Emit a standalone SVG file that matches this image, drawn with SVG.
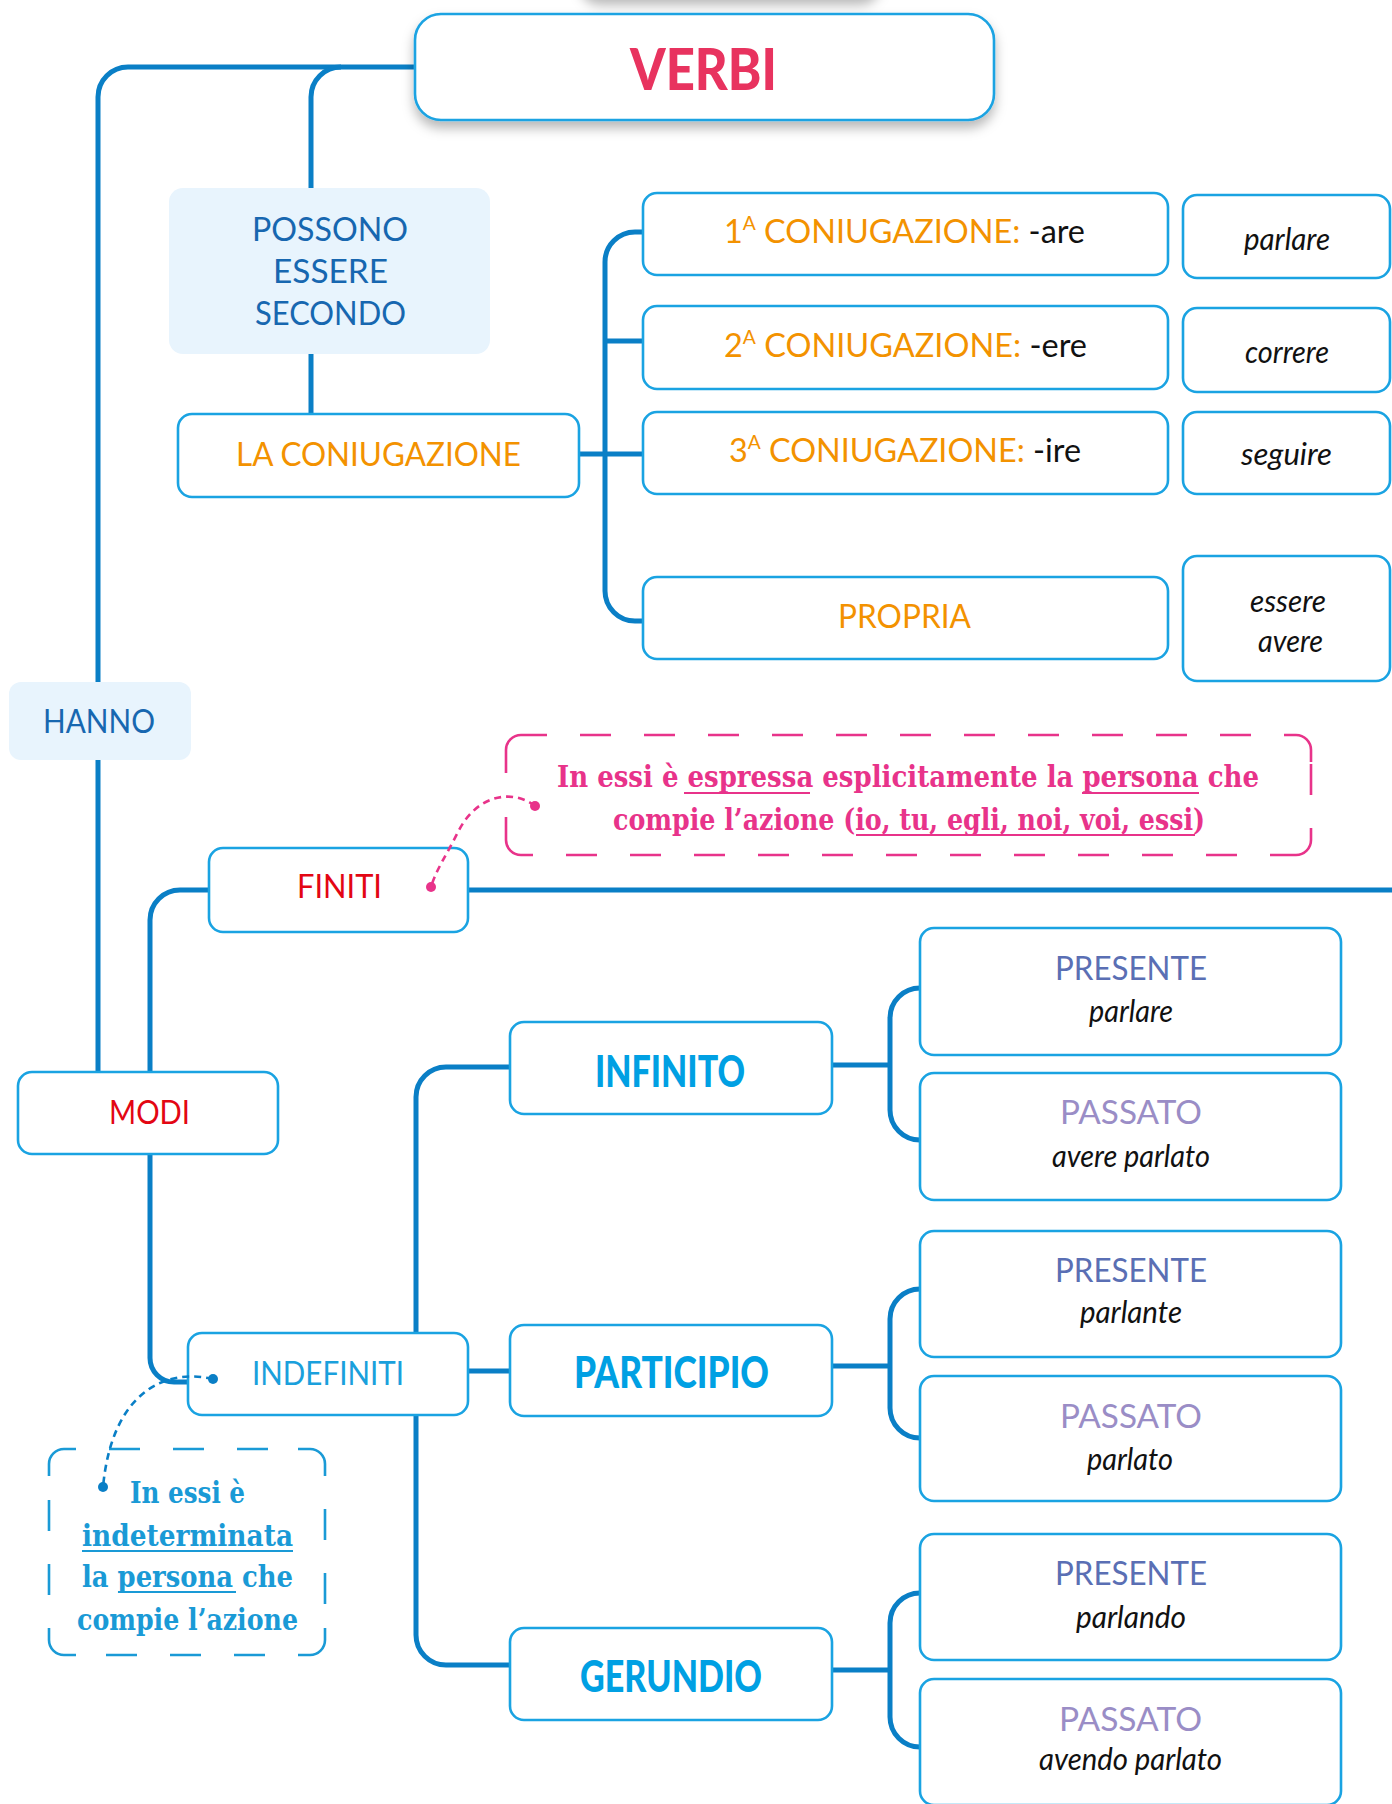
<svg xmlns="http://www.w3.org/2000/svg" width="1392" height="1804" viewBox="0 0 1392 1804">
<defs>
<filter id="sh" x="-10%" y="-30%" width="120%" height="170%">
<feDropShadow dx="0" dy="7" stdDeviation="6" flood-color="#000" flood-opacity="0.28"/>
</filter>
</defs>
<style>
.box{fill:#fff;stroke:#1aa3e2;stroke-width:2.6}
.soft{fill:#e8f4fd;stroke:none}
.con{fill:none;stroke:#0a7fc6;stroke-width:5;stroke-linecap:butt}
.lbl{font-family:Lato,"Liberation Sans",sans-serif;font-size:32px}
.ital{font-family:Lato,"Liberation Sans",sans-serif;font-size:30px;font-style:italic;fill:#111}
.ttl{font-family:Lato,"Liberation Sans",sans-serif;font-size:43px;font-weight:900;fill:#00a0e3}
.call{font-family:"DejaVu Serif Condensed","DejaVu Serif",serif;font-size:29px;font-weight:bold}
.ul{stroke-width:2.2}
.dash{fill:none;stroke-width:2.6;stroke-dasharray:31 33}
.corner{fill:none;stroke-width:2.6}
.lead{fill:none;stroke-width:2.6;stroke-dasharray:7 5}
</style>
<rect x="0" y="0" width="1392" height="1804" fill="#fff"/>
<rect x="580" y="-40" width="300" height="38" rx="20" fill="#fff" filter="url(#sh)"/>

<g id="connectors">
<path class="con" d="M415,67 L128,67 A30,30 0 0 0 98,97 L98,1072"/>
<path class="con" d="M341,67 A30,30 0 0 0 311,97 L311,414"/>
<path class="con" d="M643,232 L635,232 A30,30 0 0 0 605,262 L605,591 A30,30 0 0 0 635,621 L643,621"/>
<path class="con" d="M605,341 L643,341"/>
<path class="con" d="M579,454 L643,454"/>
<path class="con" d="M150,1072 L150,920 A30,30 0 0 1 180,890 L209,890"/>
<path class="con" d="M468,890 L1392,890"/>
<path class="con" d="M150,1154 L150,1358 A24,24 0 0 0 174,1382 L190,1382"/>
<path class="con" d="M510,1067 L446,1067 A30,30 0 0 0 416,1097 L416,1635 A30,30 0 0 0 446,1665 L510,1665"/>
<path class="con" d="M468,1371 L510,1371"/>
<path class="con" d="M832,1065 L889,1065"/>
<path class="con" d="M920,988 A30,30 0 0 0 890,1018 L890,1110 A30,30 0 0 0 920,1140"/>
<path class="con" d="M832,1366 L889,1366"/>
<path class="con" d="M920,1289 A30,30 0 0 0 890,1319 L890,1408 A30,30 0 0 0 920,1438"/>
<path class="con" d="M832,1670 L889,1670"/>
<path class="con" d="M920,1593 A30,30 0 0 0 890,1623 L890,1717 A30,30 0 0 0 920,1747"/>
</g>

<g id="verbi">
<rect class="box" x="415" y="14" width="579" height="106" rx="26" filter="url(#sh)"/>
<text x="630" y="90" font-family="Lato,'Liberation Sans',sans-serif" font-size="58" font-weight="900" fill="#e8335f" textLength="147" lengthAdjust="spacingAndGlyphs">VERBI</text>
</g>

<g id="possono">
<rect class="soft" x="169" y="188" width="321" height="166" rx="14"/>
<text class="lbl" fill="#1767b0" x="252" y="241" textLength="156" lengthAdjust="spacingAndGlyphs">POSSONO</text>
<text class="lbl" fill="#1767b0" x="273" y="283" textLength="115" lengthAdjust="spacingAndGlyphs">ESSERE</text>
<text class="lbl" fill="#1767b0" x="255" y="325" textLength="151" lengthAdjust="spacingAndGlyphs">SECONDO</text>
</g>

<g id="coniugazione">
<rect class="box" x="178" y="414" width="401" height="83" rx="14"/>
<text class="lbl" fill="#f39200" x="236" y="466" textLength="285" lengthAdjust="spacingAndGlyphs">LA CONIUGAZIONE</text>
</g>

<g id="coniug1">
<rect class="box" x="643" y="193" width="525" height="82" rx="14"/>
<text class="lbl" fill="#f39200" x="724" y="243" textLength="361" lengthAdjust="spacingAndGlyphs">1<tspan font-size="19" dy="-13">A</tspan><tspan dy="13"> CONIUGAZIONE: </tspan><tspan fill="#111">-are</tspan></text>
</g>
<g id="coniug2">
<rect class="box" x="643" y="306" width="525" height="83" rx="14"/>
<text class="lbl" fill="#f39200" x="724" y="357" textLength="363" lengthAdjust="spacingAndGlyphs">2<tspan font-size="19" dy="-13">A</tspan><tspan dy="13"> CONIUGAZIONE: </tspan><tspan fill="#111">-ere</tspan></text>
</g>
<g id="coniug3">
<rect class="box" x="643" y="412" width="525" height="82" rx="14"/>
<text class="lbl" fill="#f39200" x="729" y="462" textLength="352" lengthAdjust="spacingAndGlyphs">3<tspan font-size="19" dy="-13">A</tspan><tspan dy="13"> CONIUGAZIONE: </tspan><tspan fill="#111">-ire</tspan></text>
</g>
<g id="propria">
<rect class="box" x="643" y="577" width="525" height="82" rx="14"/>
<text class="lbl" fill="#f39200" x="838" y="628" textLength="133" lengthAdjust="spacingAndGlyphs">PROPRIA</text>
</g>

<g id="ex-parlare">
<rect class="box" x="1183" y="195" width="207" height="83" rx="14"/>
<text class="ital" x="1244" y="250" textLength="86" lengthAdjust="spacingAndGlyphs">parlare</text>
</g>
<g id="ex-correre">
<rect class="box" x="1183" y="308" width="207" height="84" rx="14"/>
<text class="ital" x="1245" y="363" textLength="84" lengthAdjust="spacingAndGlyphs">correre</text>
</g>
<g id="ex-seguire">
<rect class="box" x="1183" y="412" width="207" height="82" rx="14"/>
<text class="ital" x="1241" y="465" textLength="91" lengthAdjust="spacingAndGlyphs">seguire</text>
</g>
<g id="ex-essere">
<rect class="box" x="1183" y="556" width="207" height="125" rx="14"/>
<text class="ital" x="1250" y="612" textLength="76" lengthAdjust="spacingAndGlyphs">essere</text>
<text class="ital" x="1258" y="652" textLength="65" lengthAdjust="spacingAndGlyphs">avere</text>
</g>

<g id="hanno">
<rect class="soft" x="9" y="682" width="182" height="78" rx="12"/>
<text class="lbl" fill="#1767b0" x="43" y="733" textLength="112" lengthAdjust="spacingAndGlyphs">HANNO</text>
</g>

<g id="note-finiti">
<path class="dash" stroke="#e8338a" stroke-dashoffset="31" d="M533,855 L1284,855 M1311,828 L1311,762 M1284,735 L533,735"/>
<g class="corner" stroke="#e8338a">
<path d="M506,773 L506,750 A15,15 0 0 1 521,735 L533,735"/>
<path d="M1284,735 L1296,735 A15,15 0 0 1 1311,750 L1311,762"/>
<path d="M1311,828 L1311,840 A15,15 0 0 1 1296,855 L1284,855"/>
<path d="M533,855 L521,855 A15,15 0 0 1 506,840 L506,817"/>
</g>
<text class="call" fill="#e8338a" x="557" y="787" textLength="702" lengthAdjust="spacingAndGlyphs">In essi è espressa esplicitamente la persona che</text>
<text class="call" fill="#e8338a" x="613" y="830" textLength="592" lengthAdjust="spacingAndGlyphs">compie l’azione (io, tu, egli, noi, voi, essi)</text>
<g stroke="#e8338a" class="ul">
<line x1="684" y1="793" x2="810" y2="793"/>
<line x1="1082" y1="793" x2="1199" y2="793"/>
<line x1="856" y1="835" x2="1195" y2="835"/>
</g>
</g>

<g id="finiti">
<rect class="box" x="209" y="848" width="259" height="84" rx="14"/>
<text class="lbl" fill="#e30613" x="297" y="898" textLength="85" lengthAdjust="spacingAndGlyphs">FINITI</text>
</g>

<g id="modi">
<rect class="box" x="18" y="1072" width="260" height="82" rx="14"/>
<text class="lbl" fill="#e30613" x="109" y="1124" textLength="81" lengthAdjust="spacingAndGlyphs">MODI</text>
</g>

<g id="indefiniti">
<rect class="box" x="188" y="1333" width="280" height="82" rx="14"/>
<text class="lbl" fill="#1aa0dc" x="252" y="1385" textLength="152" lengthAdjust="spacingAndGlyphs">INDEFINITI</text>
</g>

<g id="note-indefiniti">
<path class="dash" stroke="#1a9ad6" stroke-dashoffset="31" d="M76,1449 L298,1449 M325,1476 L325,1628 M298,1655 L76,1655 M49,1628 L49,1476"/>
<g class="corner" stroke="#1a9ad6">
<path d="M49,1476 L49,1464 A15,15 0 0 1 64,1449 L76,1449"/>
<path d="M298,1449 L310,1449 A15,15 0 0 1 325,1464 L325,1476"/>
<path d="M325,1628 L325,1640 A15,15 0 0 1 310,1655 L298,1655"/>
<path d="M76,1655 L64,1655 A15,15 0 0 1 49,1640 L49,1628"/>
</g>
<text class="call" fill="#1a9ad6" x="130" y="1503" textLength="115" lengthAdjust="spacingAndGlyphs">In essi è</text>
<text class="call" fill="#1a9ad6" x="82" y="1546" textLength="211" lengthAdjust="spacingAndGlyphs">indeterminata</text>
<text class="call" fill="#1a9ad6" x="82" y="1587" textLength="211" lengthAdjust="spacingAndGlyphs">la persona che</text>
<text class="call" fill="#1a9ad6" x="77" y="1630" textLength="221" lengthAdjust="spacingAndGlyphs">compie l’azione</text>
<g stroke="#1a9ad6" class="ul">
<line x1="82" y1="1551" x2="293" y2="1551"/>
<line x1="118" y1="1592" x2="236" y2="1592"/>
</g>
</g>

<g id="infinito">
<rect class="box" x="510" y="1022" width="322" height="92" rx="14"/>
<text class="ttl" x="595" y="1087" textLength="150" lengthAdjust="spacingAndGlyphs">INFINITO</text>
</g>
<g id="participio">
<rect class="box" x="510" y="1325" width="322" height="91" rx="14"/>
<text class="ttl" x="574" y="1388" textLength="195" lengthAdjust="spacingAndGlyphs">PARTICIPIO</text>
</g>
<g id="gerundio">
<rect class="box" x="510" y="1628" width="322" height="92" rx="14"/>
<text class="ttl" x="580" y="1692" textLength="182" lengthAdjust="spacingAndGlyphs">GERUNDIO</text>
</g>

<g id="inf-presente">
<rect class="box" x="920" y="928" width="421" height="127" rx="14"/>
<text class="lbl" fill="#5a6fb4" x="1055" y="980" textLength="152" lengthAdjust="spacingAndGlyphs">PRESENTE</text>
<text class="ital" x="1089" y="1022" textLength="84" lengthAdjust="spacingAndGlyphs">parlare</text>
</g>
<g id="inf-passato">
<rect class="box" x="920" y="1073" width="421" height="127" rx="14"/>
<text class="lbl" fill="#9a8dc6" x="1060" y="1124" textLength="142" lengthAdjust="spacingAndGlyphs">PASSATO</text>
<text class="ital" x="1052" y="1167" textLength="158" lengthAdjust="spacingAndGlyphs">avere parlato</text>
</g>
<g id="part-presente">
<rect class="box" x="920" y="1231" width="421" height="126" rx="14"/>
<text class="lbl" fill="#5a6fb4" x="1055" y="1282" textLength="152" lengthAdjust="spacingAndGlyphs">PRESENTE</text>
<text class="ital" x="1080" y="1323" textLength="102" lengthAdjust="spacingAndGlyphs">parlante</text>
</g>
<g id="part-passato">
<rect class="box" x="920" y="1376" width="421" height="125" rx="14"/>
<text class="lbl" fill="#9a8dc6" x="1060" y="1428" textLength="142" lengthAdjust="spacingAndGlyphs">PASSATO</text>
<text class="ital" x="1087" y="1470" textLength="86" lengthAdjust="spacingAndGlyphs">parlato</text>
</g>
<g id="ger-presente">
<rect class="box" x="920" y="1534" width="421" height="126" rx="14"/>
<text class="lbl" fill="#5a6fb4" x="1055" y="1585" textLength="152" lengthAdjust="spacingAndGlyphs">PRESENTE</text>
<text class="ital" x="1076" y="1628" textLength="110" lengthAdjust="spacingAndGlyphs">parlando</text>
</g>
<g id="ger-passato">
<rect class="box" x="920" y="1679" width="421" height="126" rx="14"/>
<text class="lbl" fill="#9a8dc6" x="1059" y="1731" textLength="143" lengthAdjust="spacingAndGlyphs">PASSATO</text>
<text class="ital" x="1039" y="1770" textLength="183" lengthAdjust="spacingAndGlyphs">avendo parlato</text>
</g>

<g id="leaders">
<path class="lead" stroke="#e8338a" d="M535,806 C515,790 478,792 458,832 C446,856 436,870 431,887"/>
<circle cx="535" cy="806" r="5" fill="#e8338a"/>
<circle cx="431" cy="887" r="5" fill="#e8338a"/>
<path class="lead" stroke="#0a7fc6" d="M213,1379 C165,1368 112,1392 103,1487"/>
<circle cx="213" cy="1379" r="5" fill="#0a7fc6"/>
<circle cx="103" cy="1487" r="5" fill="#0a7fc6"/>
</g>
</svg>
